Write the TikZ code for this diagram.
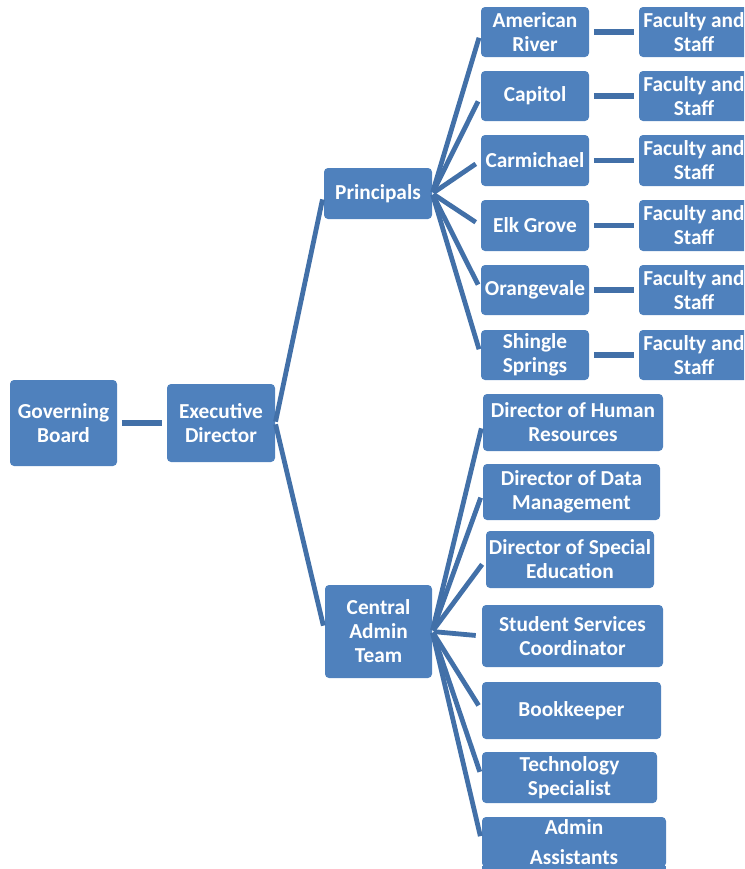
\documentclass[tikz,border=0pt]{standalone}
\usepackage{fontspec}
\setmainfont{Carlito}
\definecolor{boxblue}{RGB}{79,129,189}
\definecolor{linkblue}{RGB}{66,112,168}
\tikzset{
  box/.style={fill=boxblue, rounded corners=3pt, inner sep=0pt, text=white,
    align=center, font=\bfseries\fontsize{16}{18}\selectfont},
  fan/.style={draw=linkblue, line width=3.6pt, shorten >=4.5pt, shorten <=1pt},
  link/.style={draw=linkblue, line width=4.2pt, shorten >=3.5pt, shorten <=3.5pt},
}
\newcommand\bx[6]{\node[box, minimum width={(#4-#2)*0.75pt}, minimum height={(#5-#3)*0.75pt}] (#1) at ({(#2+#4)/2},{(#3+#5)/2}) {#6};}
\begin{document}
\begin{tikzpicture}[x=0.75pt,y=-0.75pt]
\useasboundingbox (0,0) rectangle (744,869);
\begin{scope}
\clip (0,0) rectangle (744,869);
\bx{GB}{10}{380}{117}{466}{Governing\\Board}
\bx{ED}{167}{384}{275}{462}{Executive\\Director}
\bx{P}{324}{168}{432}{219}{Principals}
\bx{CAT}{325}{585}{432}{678}{Central\\Admin\\Team}
% schools
\bx{AR}{481}{7}{589}{57}{American\\River}
\bx{CA}{481}{71}{589}{121}{Capitol}
\bx{CM}{481}{135}{589}{186}{Carmichael}
\bx{EG}{481}{200}{589}{251}{Elk Grove}
\bx{OV}{481}{265}{589}{315}{Orangevale}
\bx{SS}{481}{330}{589}{380}{Shingle\\Springs}
% faculty
\bx{F1}{639}{7}{749}{57}{Faculty and\\Staff}
\bx{F2}{639}{71}{749}{121}{Faculty and\\Staff}
\bx{F3}{639}{135}{749}{186}{Faculty and\\Staff}
\bx{F4}{639}{200}{749}{251}{Faculty and\\Staff}
\bx{F5}{639}{265}{749}{315}{Faculty and\\Staff}
\bx{F6}{639}{330}{749}{380}{Faculty and\\Staff}
% admin
\bx{HR}{483}{394}{663}{451}{Director of Human\\Resources}
\bx{DM}{483}{464}{660}{520}{Director of Data\\Management}
\bx{SE}{486}{531}{654}{588}{Director of Special\\Education}
\bx{SC}{482}{605}{663}{667}{Student Services\\Coordinator}
\bx{BK}{482}{682}{661}{739}{Bookkeeper}
\bx{TS}{482}{752}{657}{803}{Technology\\Specialist}
\bx{AA}{482}{817}{666}{867}{Admin\\[4pt]Assistants}
% connectors
\draw[link] (GB.east) -- (ED.west);
\draw[fan] (ED.east) -- (P.west);
\draw[fan] (ED.east) -- (CAT.west);
\foreach \s in {AR,CA,CM,EG,OV,SS}{
  \draw[fan] (P.east) -- (\s.west);
}
\foreach \s in {HR,DM,SE,SC,BK,TS,AA}{
  \draw[fan] (CAT.east) -- (\s.west);
}
\foreach \s/\f in {AR/F1,CA/F2,CM/F3,EG/F4,OV/F5,SS/F6}{
  \draw[link] (\s.east) -- (\f.west);
}
\end{scope}
\fill[boxblue] (482,866) rectangle (666,869);
\end{tikzpicture}
\end{document}
